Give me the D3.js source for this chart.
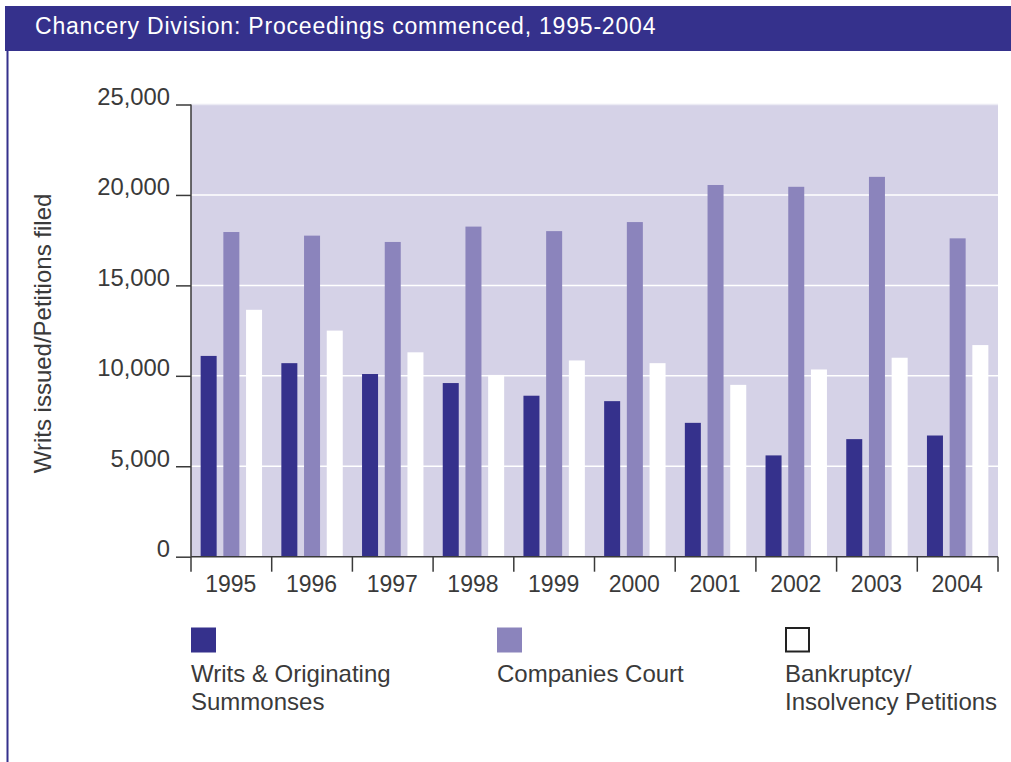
<!DOCTYPE html>
<html>
<head>
<meta charset="utf-8">
<script src="https://cdn.jsdelivr.net/npm/d3@7"></script>
<style>
  html, body { margin: 0; padding: 0; background: #ffffff; }
  svg { display: block; font-family: "Liberation Sans", Arial, Helvetica, sans-serif; }
</style>
</head>
<body>
<svg id="chart" width="1011" height="762"></svg>
<script>
// Proceedings commenced in the Chancery Division, by year
const years = ["1995", "1996", "1997", "1998", "1999", "2000", "2001", "2002", "2003", "2004"];
const writsSummonses = [11100, 10700, 10100, 9600, 8900, 8600, 7400, 5600, 6500, 6700];
const companiesCourt = [17950, 17750, 17400, 18250, 18000, 18500, 20550, 20450, 21000, 17600];
const bankruptcyPetitions = [13650, 12500, 11300, 10050, 10850, 10700, 9500, 10350, 11000, 11700];
const yTicks = [0, 5000, 10000, 15000, 20000, 25000];

const seriesNames = ["Writs & Originating Summonses", "Companies Court", "Bankruptcy/Insolvency Petitions"];
const seriesKeys = ["writs", "companies", "bankruptcy"];
const seriesColors = ["#35318c", "#8b84bc", "#ffffff"];

const rows = years.map((yr, i) => ({
  year: yr,
  writs: writsSummonses[i],
  companies: companiesCourt[i],
  bankruptcy: bankruptcyPetitions[i]
}));

const svg = d3.select("#chart");
const inkColor = "#3a3a3a";

// Header band with title
svg.append("rect").attr("x", 5).attr("y", 6).attr("width", 1006).attr("height", 45).attr("fill", "#35318c");
svg.append("text")
  .attr("x", 35).attr("y", 34)
  .attr("fill", "#ffffff")
  .attr("font-size", 23)
  .attr("letter-spacing", 0.8)
  .text("Chancery Division: Proceedings commenced, 1995-2004");

// Left frame rule
svg.append("line").attr("x1", 7.5).attr("x2", 7.5).attr("y1", 51).attr("y2", 762)
  .attr("stroke", "#35318c").attr("stroke-width", 2);

// Plot geometry
const plotLeft = 191, plotRight = 998, plotTop = 104.5, plotBottom = 556.7;

const x0 = d3.scaleBand().domain(years).range([plotLeft, plotRight]).padding(0);
const x1 = d3.scaleBand().domain(seriesKeys).range([0, x0.bandwidth()])
  .paddingInner(0.295).paddingOuter(0.425);
const y = d3.scaleLinear().domain([0, 25000]).range([plotBottom, plotTop]);

// Plot background
svg.append("rect").attr("x", plotLeft).attr("y", plotTop)
  .attr("width", plotRight - plotLeft).attr("height", plotBottom - plotTop)
  .attr("fill", "#d5d2e7");

// Gridlines
svg.append("g").selectAll("line").data(yTicks.filter(t => t > 0)).join("line")
  .attr("x1", plotLeft).attr("x2", plotRight)
  .attr("y1", d => y(d)).attr("y2", d => y(d))
  .attr("stroke", d => d === 25000 ? "#ecebf4" : "#ffffff").attr("stroke-width", 1.5);

// Bars
const groups = svg.append("g").selectAll("g").data(rows).join("g")
  .attr("transform", d => `translate(${x0(d.year)},0)`);
groups.selectAll("rect")
  .data(d => seriesKeys.map((k, i) => ({ key: k, value: d[k], color: seriesColors[i] })))
  .join("rect")
  .attr("x", d => x1(d.key))
  .attr("width", x1.bandwidth())
  .attr("y", d => y(d.value))
  .attr("height", d => y(0) - y(d.value))
  .attr("fill", d => d.color);

// Y axis: labels sit just above their tick marks
const yAxis = d3.axisLeft(y).tickValues(yTicks).tickSize(15).tickPadding(6)
  .tickFormat(d3.format(","));
const yg = svg.append("g").attr("transform", `translate(${plotLeft},0)`).call(yAxis);
yg.select(".domain").attr("stroke", inkColor).attr("stroke-width", 1.5)
  .attr("d", `M0,${plotTop}V${plotBottom}`);
yg.selectAll(".tick line").attr("stroke", inkColor).attr("stroke-width", 1.5);
yg.selectAll(".tick text")
  .attr("font-size", 23.8).attr("fill", inkColor)
  .attr("font-family", "Liberation Sans, Arial, sans-serif")
  .attr("dy", "0").attr("y", 0);

// X axis: ticks at category boundaries, labels centred in each band
const xg = svg.append("g").attr("transform", `translate(0,${plotBottom})`);
xg.append("line").attr("x1", plotLeft).attr("x2", plotRight).attr("y1", 0).attr("y2", 0)
  .attr("stroke", inkColor).attr("stroke-width", 1.5);
const bounds = years.map(yr => x0(yr)).concat([plotRight]);
xg.selectAll("line.tk").data(bounds).join("line").attr("class", "tk")
  .attr("x1", d => d).attr("x2", d => d).attr("y1", 0).attr("y2", 15)
  .attr("stroke", inkColor).attr("stroke-width", 1.5);
xg.selectAll("text").data(years).join("text")
  .attr("x", d => x0(d) + x0.bandwidth() / 2 - 0.5)
  .attr("y", 35)
  .attr("text-anchor", "middle")
  .attr("font-size", 23).attr("fill", inkColor)
  .text(d => d);

// Y axis title
svg.append("text")
  .attr("transform", "translate(51,333.5) rotate(-90)")
  .attr("text-anchor", "middle")
  .attr("font-size", 24).attr("fill", inkColor)
  .text("Writs issued/Petitions filed");

// Legend
const legendX = [191, 497, 785];
const legendLines = [["Writs & Originating", "Summonses"], ["Companies Court"], ["Bankruptcy/", "Insolvency Petitions"]];
const lg = svg.append("g").selectAll("g").data(seriesNames).join("g")
  .attr("transform", (d, i) => `translate(${legendX[i]},0)`);
lg.append("rect")
  .attr("x", (d, i) => i === 2 ? 1 : 0)
  .attr("y", (d, i) => i === 2 ? 628 : 627.5)
  .attr("width", (d, i) => i === 2 ? 23 : 25)
  .attr("height", (d, i) => i === 2 ? 23.5 : 25)
  .attr("fill", (d, i) => seriesColors[i])
  .attr("stroke", (d, i) => i === 2 ? "#222222" : "none")
  .attr("stroke-width", 2);
lg.each(function(d, i) {
  d3.select(this).selectAll("text").data(legendLines[i]).join("text")
    .attr("x", 0)
    .attr("y", (t, j) => 682 + j * 28)
    .attr("font-size", 24).attr("fill", inkColor)
    .text(t => t);
});
</script>
</body>
</html>
